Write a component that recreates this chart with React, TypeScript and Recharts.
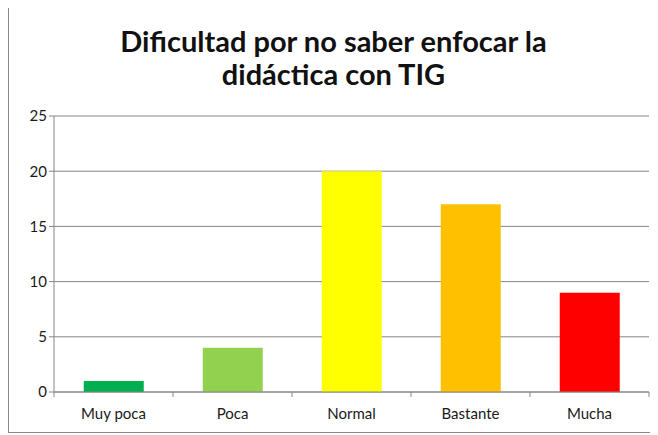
import { BarChart, Bar, XAxis, YAxis, CartesianGrid, Cell } from 'recharts';

const categories = ['Muy poca', 'Poca', 'Normal', 'Bastante', 'Mucha'];
const values = [1, 4, 20, 17, 9];
const barColors = ['#00B050', '#92D050', '#FFFF00', '#FFC000', '#FF0000'];
const yTicks = [0, 5, 10, 15, 20, 25];

const data = categories.map((name, i) => ({ name, value: values[i] }));

const FONT = 'Lato, "Open Sans", sans-serif';

function CategoryTick(props: any) {
  const { x, y, payload, index } = props;
  const half = payload?.offset ?? 0;
  return (
    <g>
      <line x1={x - half} y1={y - 8} x2={x - half} y2={y - 3} stroke="#868686" />
      {index === categories.length - 1 && (
        <line x1={x + half} y1={y - 8} x2={x + half} y2={y - 3} stroke="#868686" />
      )}
      <text x={x} y={y + 19} textAnchor="middle" fontSize={15} fill="#1a1a1a" fontFamily={FONT}>
        {payload.value}
      </text>
    </g>
  );
}

export default function App() {
  return (
    <div
      style={{
        position: 'relative',
        width: 649,
        height: 425,
        marginTop: -2,
        border: '1px solid #8a8a8a',
        background: '#fff',
        fontFamily: FONT,
      }}
    >
      <div
        style={{
          position: 'absolute',
          top: 17,
          left: 0,
          width: '100%',
          textAlign: 'center',
          fontSize: 29,
          fontWeight: 700,
          lineHeight: '33px',
          color: '#111',
        }}
      >
        Dificultad por no saber enfocar la
        <br />
        didáctica con TIG
      </div>
      <BarChart
        width={649}
        height={425}
        data={data}
        margin={{ top: 109, right: 9, bottom: 10, left: 0 }}
        barCategoryGap="25%"
      >
        <CartesianGrid vertical={false} stroke="#868686" />
        <XAxis
          dataKey="name"
          axisLine={{ stroke: '#868686' }}
          tickLine={false}
          tick={<CategoryTick />}
          height={30}
          interval={0}
        />
        <YAxis
          domain={[0, 25]}
          ticks={yTicks}
          width={45}
          axisLine={{ stroke: '#868686' }}
          tickLine={{ stroke: '#868686' }}
          tickSize={5}
          tick={{ fontSize: 15, fill: '#1a1a1a', fontFamily: FONT }}
        />
        <Bar dataKey="value" isAnimationActive={false}>
          {data.map((d, i) => (
            <Cell key={d.name} fill={barColors[i]} />
          ))}
        </Bar>
      </BarChart>
    </div>
  );
}
